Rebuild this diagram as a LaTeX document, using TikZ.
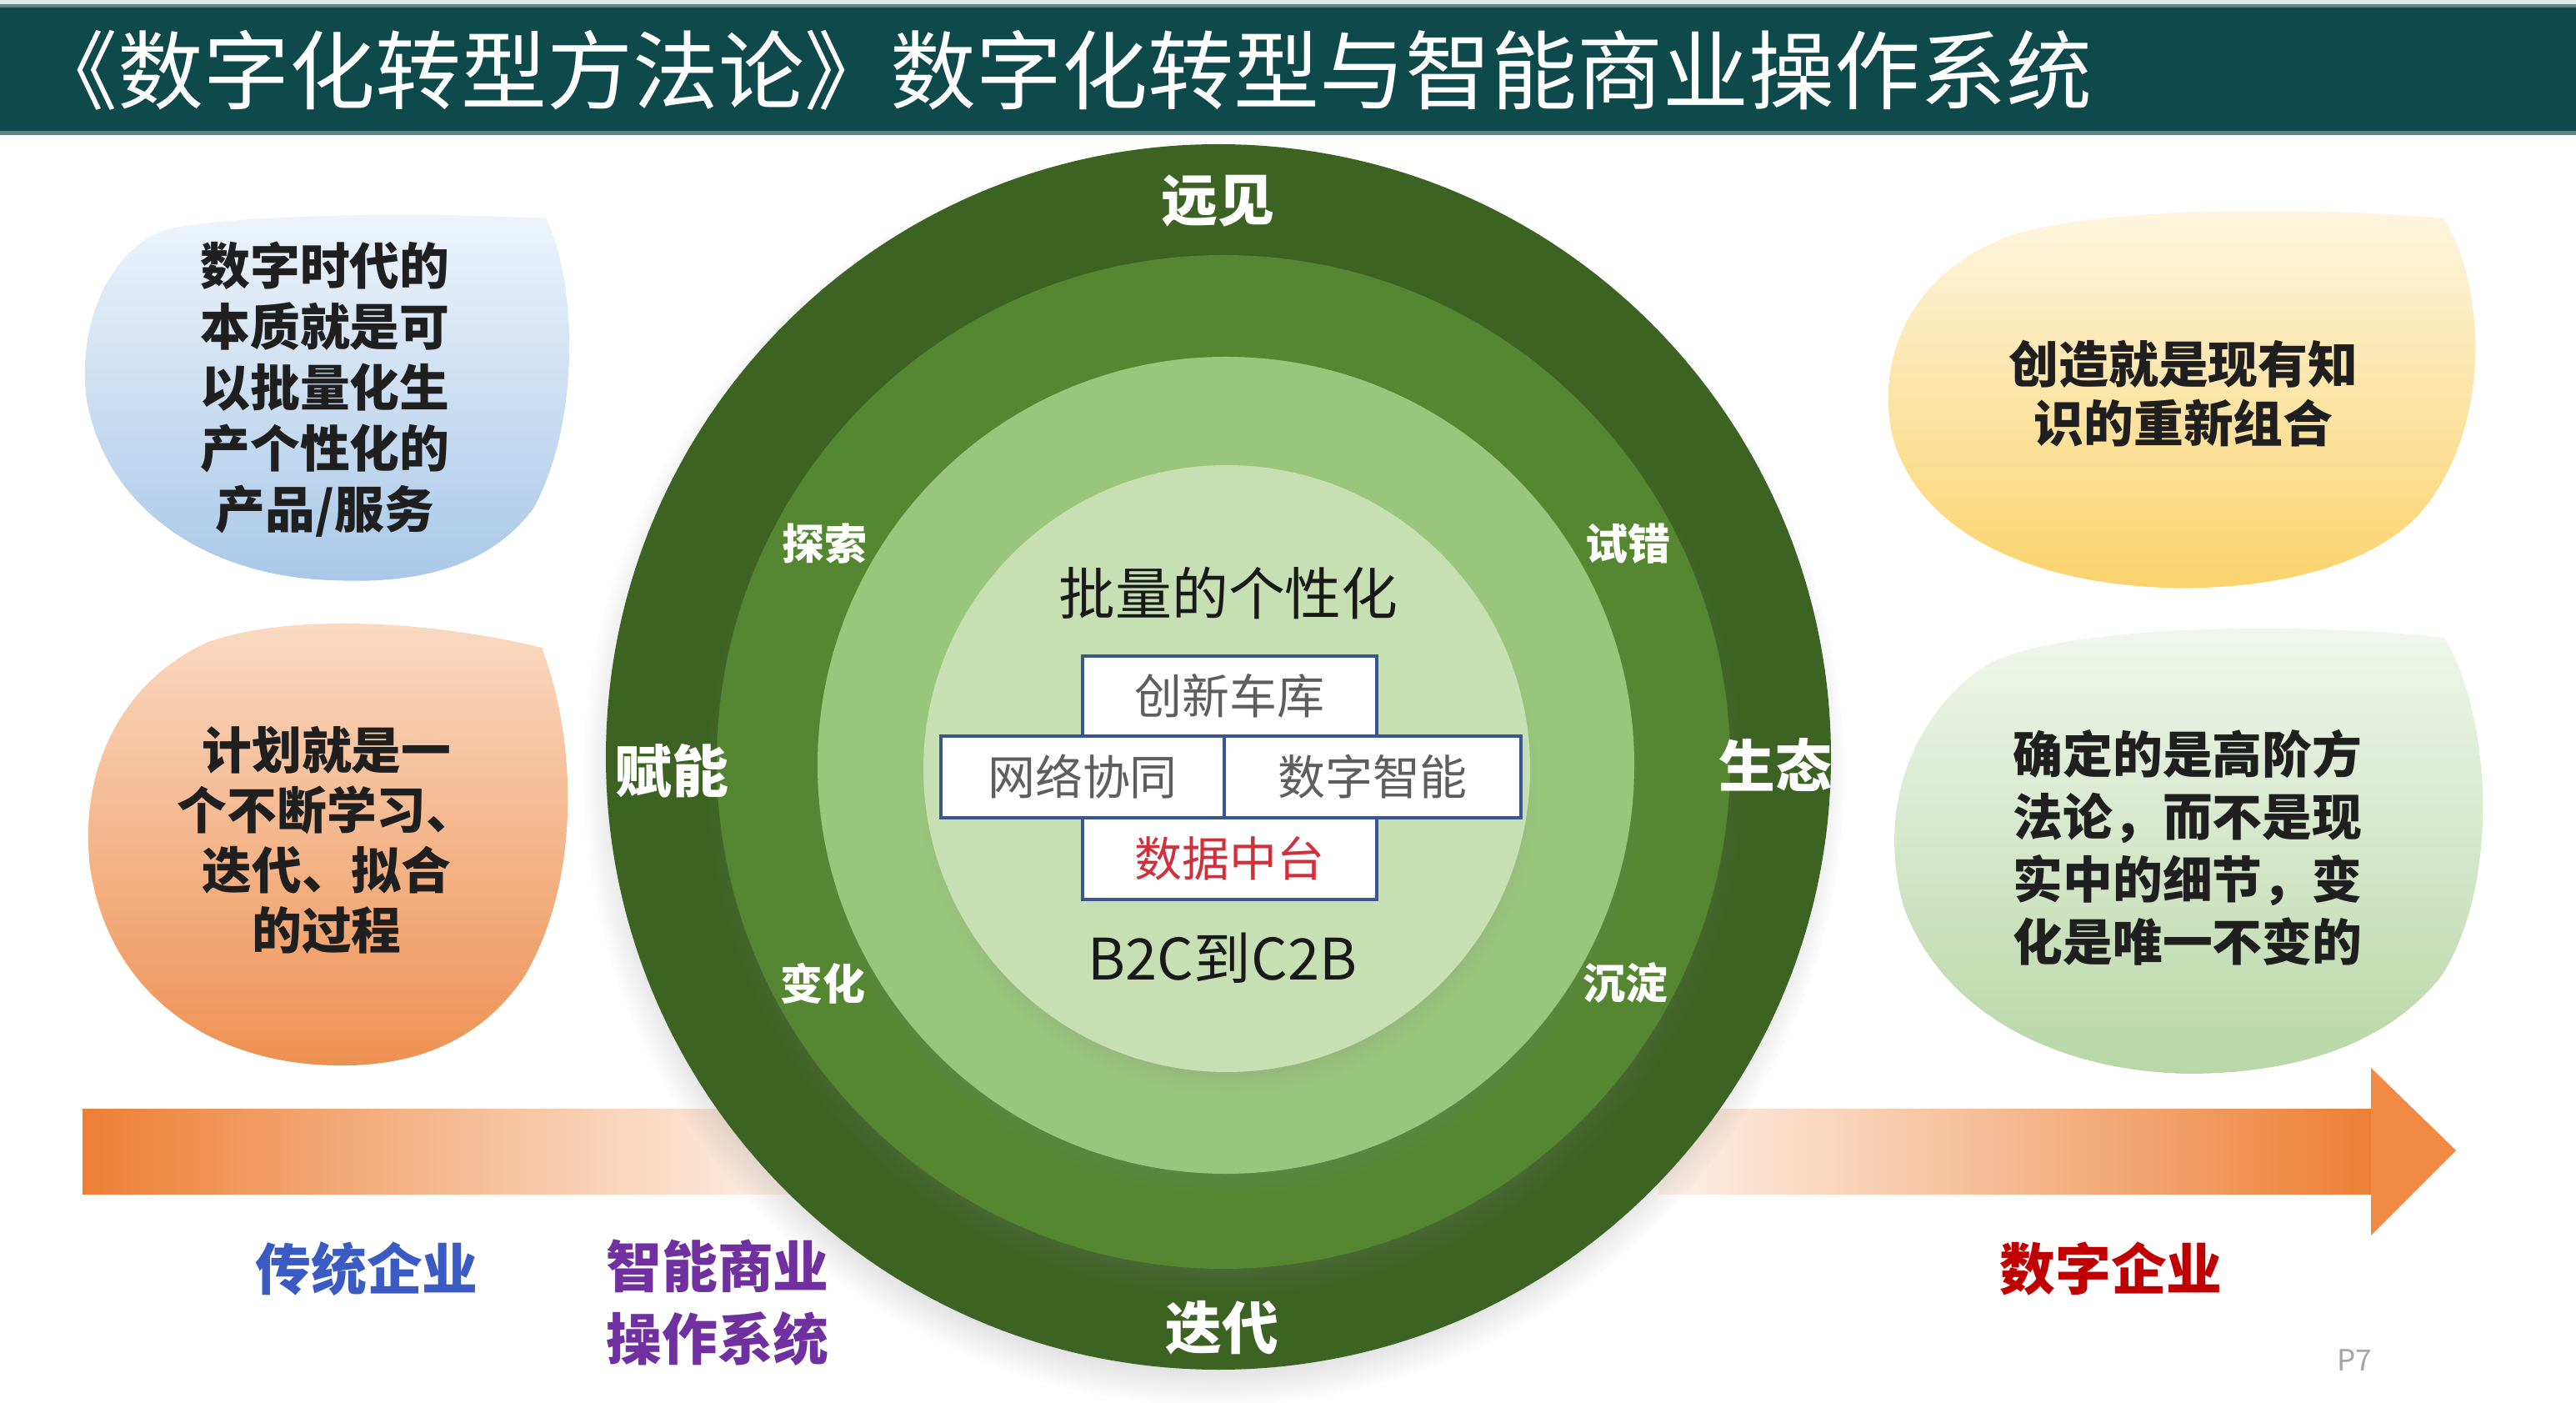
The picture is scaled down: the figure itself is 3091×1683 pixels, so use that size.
\documentclass[tikz,border=0pt]{standalone}
\usepackage{fontspec}
\newfontfamily\cjk{Noto Sans CJK SC}
\usetikzlibrary{shadows,fadings}
\definecolor{titlebar}{HTML}{0E4A4B}
\definecolor{titletop}{HTML}{E2EBEB}
\definecolor{titleline}{HTML}{5E8484}
\definecolor{ringA}{HTML}{3D6323}
\definecolor{ringB}{HTML}{558732}
\definecolor{ringC}{HTML}{9AC67B}
\definecolor{ringD}{HTML}{C6DFB3}
\definecolor{boxline}{HTML}{3A5591}
\definecolor{boxtext}{HTML}{5E5E5E}
\definecolor{redtext}{HTML}{D0303A}
\definecolor{arroworange}{HTML}{ED7F35}
\definecolor{arrowpale}{HTML}{FDF1E8}
\definecolor{arrowhead}{HTML}{F08A45}
\definecolor{bluelab}{HTML}{3B5BC4}
\definecolor{purplelab}{HTML}{7030A0}
\definecolor{redlab}{HTML}{C00000}
\definecolor{blueTop}{HTML}{EEF4FB}
\definecolor{blueBot}{HTML}{A9C8E8}
\definecolor{orTop}{HTML}{FADBC5}
\definecolor{orMid}{HTML}{F4B68C}
\definecolor{orBot}{HTML}{EE9152}
\definecolor{yeTop}{HTML}{FDF6E2}
\definecolor{yeBot}{HTML}{FBD36C}
\definecolor{grTop}{HTML}{F2F7EE}
\definecolor{grBot}{HTML}{B8D7A6}
\newcommand\setfs[2]{\fontsize{#1}{#2}\selectfont}
\tikzset{
  lab/.style={inner sep=0pt, outer sep=0pt},
  ringbig/.style={lab, text=white, font=\cjk\bfseries\setfs{19.3pt}{22pt}},
  ringsmall/.style={lab, text=white, font=\cjk\bfseries\setfs{14.5pt}{16pt}},
  blobtext/.style={lab, align=center, text=black!88},
  cellbox/.style={draw=boxline, line width=1.1pt, fill=white, inner sep=0pt, font=\cjk\setfs{16.2pt}{18pt}, text=boxtext},
  bottomlab/.style={lab, align=center, font=\cjk\bfseries\setfs{19pt}{24.8pt}}
}
\begin{document}
\begin{tikzpicture}[x=0.01cm,y=-0.01cm]
\useasboundingbox (0,0) rectangle (3091,1683);
\fill[white] (0,0) rectangle (3091,1683);
% title bar
\fill[titletop] (0,0) rectangle (3091,5);
\fill[titleline] (0,5) rectangle (3091,9);
\fill[titlebar] (0,9) rectangle (3091,157);
\fill[titleline] (0,157) rectangle (3091,162);
\node[lab, anchor=west, text=white, font=\cjk\setfs{29.3pt}{32pt}] (title) at (38,84) {《数字化转型方法论》数字化转型与智能商业操作系统};
% blobs
\shade[top color=blueTop, bottom color=blueBot] (655,262) .. controls (690,330) and (700,500) .. (640,610) .. controls (580,690) and (480,700) .. (398,696) .. controls (260,692) and (130,620) .. (104,480) .. controls (92,390) and (130,300) .. (200,275) .. controls (300,255) and (520,255) .. (655,262) -- cycle;
\shade[top color=orTop, middle color=orMid, bottom color=orBot] (650,777) .. controls (690,880) and (700,1050) .. (630,1170) .. controls (570,1260) and (480,1280) .. (400,1278) .. controls (250,1275) and (130,1190) .. (108,1040) .. controls (95,930) and (140,820) .. (250,770) .. controls (350,735) and (520,745) .. (650,777) -- cycle;
\shade[top color=yeTop, bottom color=yeBot] (2933,262) .. controls (2985,350) and (2990,520) .. (2900,620) .. controls (2830,690) and (2700,708) .. (2600,705) .. controls (2440,700) and (2300,640) .. (2270,520) .. controls (2250,420) and (2300,320) .. (2420,280) .. controls (2550,245) and (2800,250) .. (2933,262) -- cycle;
\shade[top color=grTop, bottom color=grBot] (2933,765) .. controls (2990,860) and (3000,1060) .. (2930,1170) .. controls (2860,1260) and (2740,1288) .. (2626,1288) .. controls (2460,1285) and (2330,1210) .. (2285,1090) .. controls (2255,990) and (2280,870) .. (2380,800) .. controls (2460,750) and (2750,745) .. (2933,765) -- cycle;
% arrow
\shade[left color=arroworange, right color=arrowpale] (99,1330) rectangle (950,1432);
\shade[left color=arrowpale, right color=arroworange] (1990,1330) rectangle (2846,1432);
\fill[arrowhead] (2845,1281) -- (2947,1380) -- (2845,1482) -- cycle;
% rings
\fill[ringA, circular drop shadow={shadow scale=1.03, shadow xshift=-0.05cm, shadow yshift=-0.2cm, opacity=.55}] (1462,908) circle[radius=735];
\fill[ringB, circular drop shadow={shadow scale=1.02, shadow xshift=0.02cm, shadow yshift=-0.18cm, opacity=.5}] (1468,914) circle[radius=608];
\fill[ringC, circular drop shadow={shadow scale=1.02, shadow xshift=0.02cm, shadow yshift=-0.18cm, opacity=.45}] (1471,918) circle[radius=490];
\fill[ringD, circular drop shadow={shadow scale=1.02, shadow xshift=0.02cm, shadow yshift=-0.18cm, opacity=.4}] (1472,922) circle[radius=364];
% ring labels
\node[ringbig] (vision) at (1461,241) {远见};
\node[ringbig] (iterate) at (1466,1593) {迭代};
\node[ringbig] (empower) at (806,925) {赋能};
\node[ringbig] (ecology) at (2130,918) {生态};
\node[ringsmall] (explore) at (989,652) {探索};
\node[ringsmall] (change) at (987,1180) {变化};
\node[ringsmall] (trial) at (1953,652) {试错};
\node[ringsmall] (settle) at (1950,1179) {沉淀};
% centre
\node[lab, text=black!90, font=\cjk\setfs{19.3pt}{22pt}] (mass) at (1474,712) {批量的个性化};
\node[lab, text=black!90, font=\cjk\setfs{19.5pt}{22pt}] (b2c) at (1467,1149) {B2C到C2B};
\node[cellbox, minimum width=3.53cm, minimum height=0.96cm] (garage) at (1475.5,835) {创新车库};
\node[cellbox, minimum width=3.40cm, minimum height=0.98cm] (network) at (1299,932) {网络协同};
\node[cellbox, minimum width=3.56cm, minimum height=0.98cm] (intel) at (1647,932) {数字智能};
\node[cellbox, minimum width=3.53cm, minimum height=0.98cm, text=redtext] (datahub) at (1475.5,1030) {数据中台};
% blob texts
\node[blobtext, font=\cjk\bfseries\setfs{17pt}{20.8pt}] (bluetext) at (390,467) {数字时代的\\本质就是可\\以批量化生\\产个性化的\\产品/服务};
\node[blobtext, font=\cjk\bfseries\setfs{17pt}{20.5pt}] (ortext) at (392,1008) {计划就是一\\个不断学习、\\迭代、拟合\\的过程};
\node[blobtext, font=\cjk\bfseries\setfs{17pt}{20pt}] (yetext) at (2620,472) {创造就是现有知\\识的重新组合};
\node[blobtext, font=\cjk\bfseries\setfs{17pt}{21.3pt}] (grtext) at (2625,1017) {确定的是高阶方\\法论，而不是现\\实中的细节，变\\化是唯一不变的};
% bottom labels
\node[bottomlab, text=bluelab] (trad) at (440,1522) {传统企业};
\node[bottomlab, text=purplelab] (ibos) at (861,1563) {智能商业\\操作系统};
\node[bottomlab, text=redlab] (digital) at (2533,1522) {数字企业};
\node[lab, text=black!35, font=\cjk\setfs{10pt}{12pt}] (page) at (2825,1632) {P7};
\end{tikzpicture}
\end{document}
